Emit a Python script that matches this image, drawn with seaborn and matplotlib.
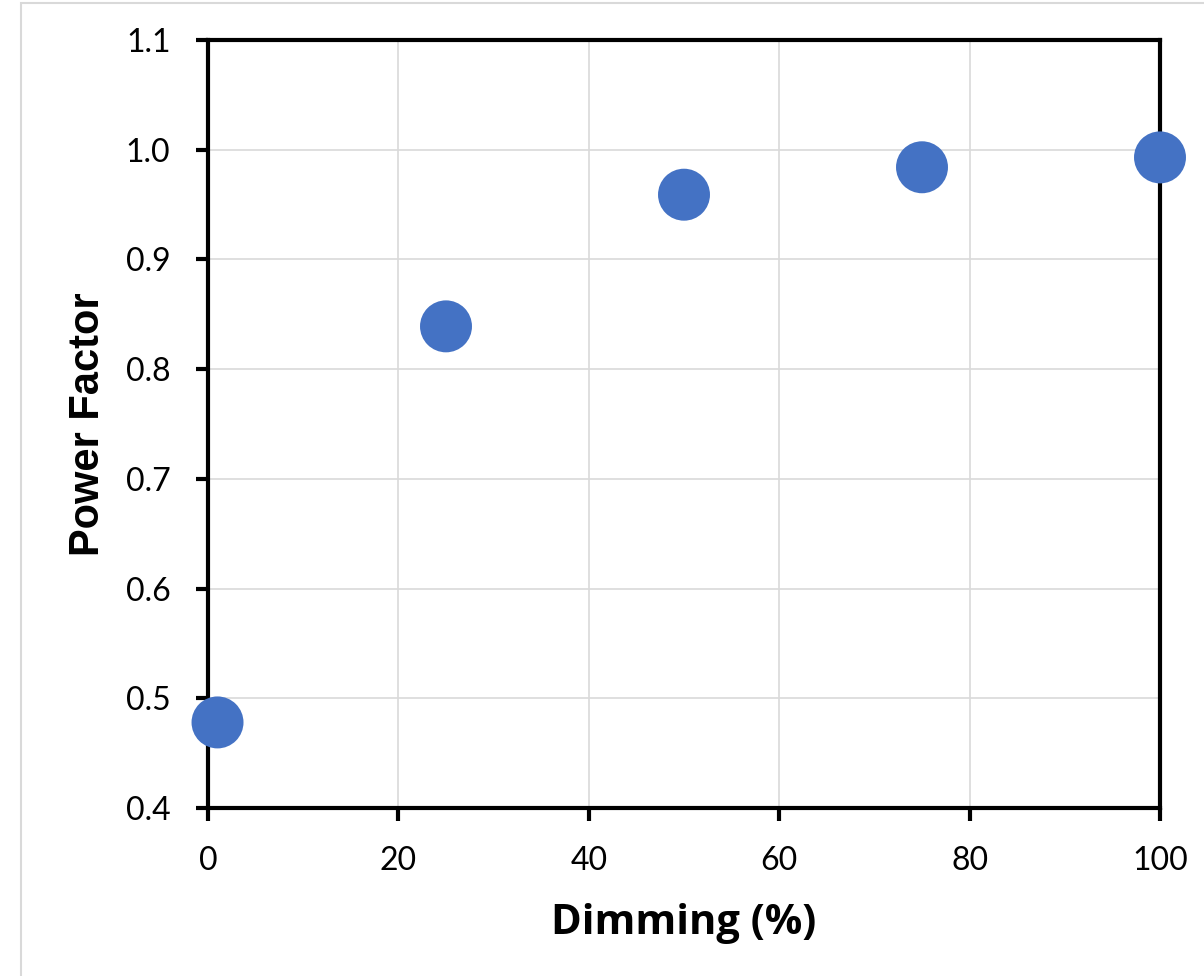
import pandas as pd
import matplotlib.pyplot as plt
import matplotlib.patches as mpatches
import seaborn as sns

# ---------------------------------
# Data
# ---------------------------------

dimming = [1, 25, 50, 75, 100]
power_factor = [0.478, 0.839, 0.959, 0.984, 0.993]

x_ticks = [0, 20, 40, 60, 80, 100]
y_ticks = [0.4, 0.5, 0.6, 0.7, 0.8, 0.9, 1.0, 1.1]

df = pd.DataFrame({"Dimming (%)": dimming, "Power Factor": power_factor})

sns.set_style("white")
plt.rcParams["font.family"] = ["Lato", "DejaVu Sans"]

fig = plt.figure(figsize=(12.04, 9.76), dpi=100)
ax = fig.add_axes([208 / 1204, 1 - 808 / 976, 952 / 1204, 768 / 976])

# light frame around the chart area
fig.patches.append(
    mpatches.Rectangle(
        (21 / 1204, -0.05), 1.2, 1 - 3 / 976 + 0.05,
        transform=fig.transFigure, fill=False,
        edgecolor="#d9d9d9", linewidth=1.5, zorder=0
    )
)

sns.scatterplot(
    data=df,
    x="Dimming (%)",
    y="Power Factor",
    s=1400,
    color="#4472C4",
    edgecolor="none",
    ax=ax,
    zorder=5,
    clip_on=False
)

ax.set_xlim(0, 100)
ax.set_ylim(0.4, 1.1)
ax.set_xticks(x_ticks)
ax.set_yticks(y_ticks)
ax.set_xticklabels([str(t) for t in x_ticks])
ax.set_yticklabels([f"{t:.1f}" for t in y_ticks])

ax.grid(True, color="#d9d9d9", linewidth=1.2)
ax.set_axisbelow(True)

for side in ["left", "right", "top", "bottom"]:
    ax.spines[side].set_visible(True)
    ax.spines[side].set_color("black")
    ax.spines[side].set_linewidth(3)

ax.tick_params(
    axis="both", direction="out", length=9, width=3,
    colors="black", labelsize=23, pad=18,
    bottom=True, left=True, top=False, right=False
)
ax.tick_params(axis="y", pad=18)

ax.set_xlabel(
    "Dimming (%)", fontsize=30, fontweight="bold", color="black",
    family=["Open Sans", "DejaVu Sans"], labelpad=20
)
ax.set_ylabel(
    "Power Factor", fontsize=30, fontweight="bold", color="black",
    family=["Liberation Sans", "DejaVu Sans"], labelpad=13
)

fig.savefig("out.png", dpi=100)
